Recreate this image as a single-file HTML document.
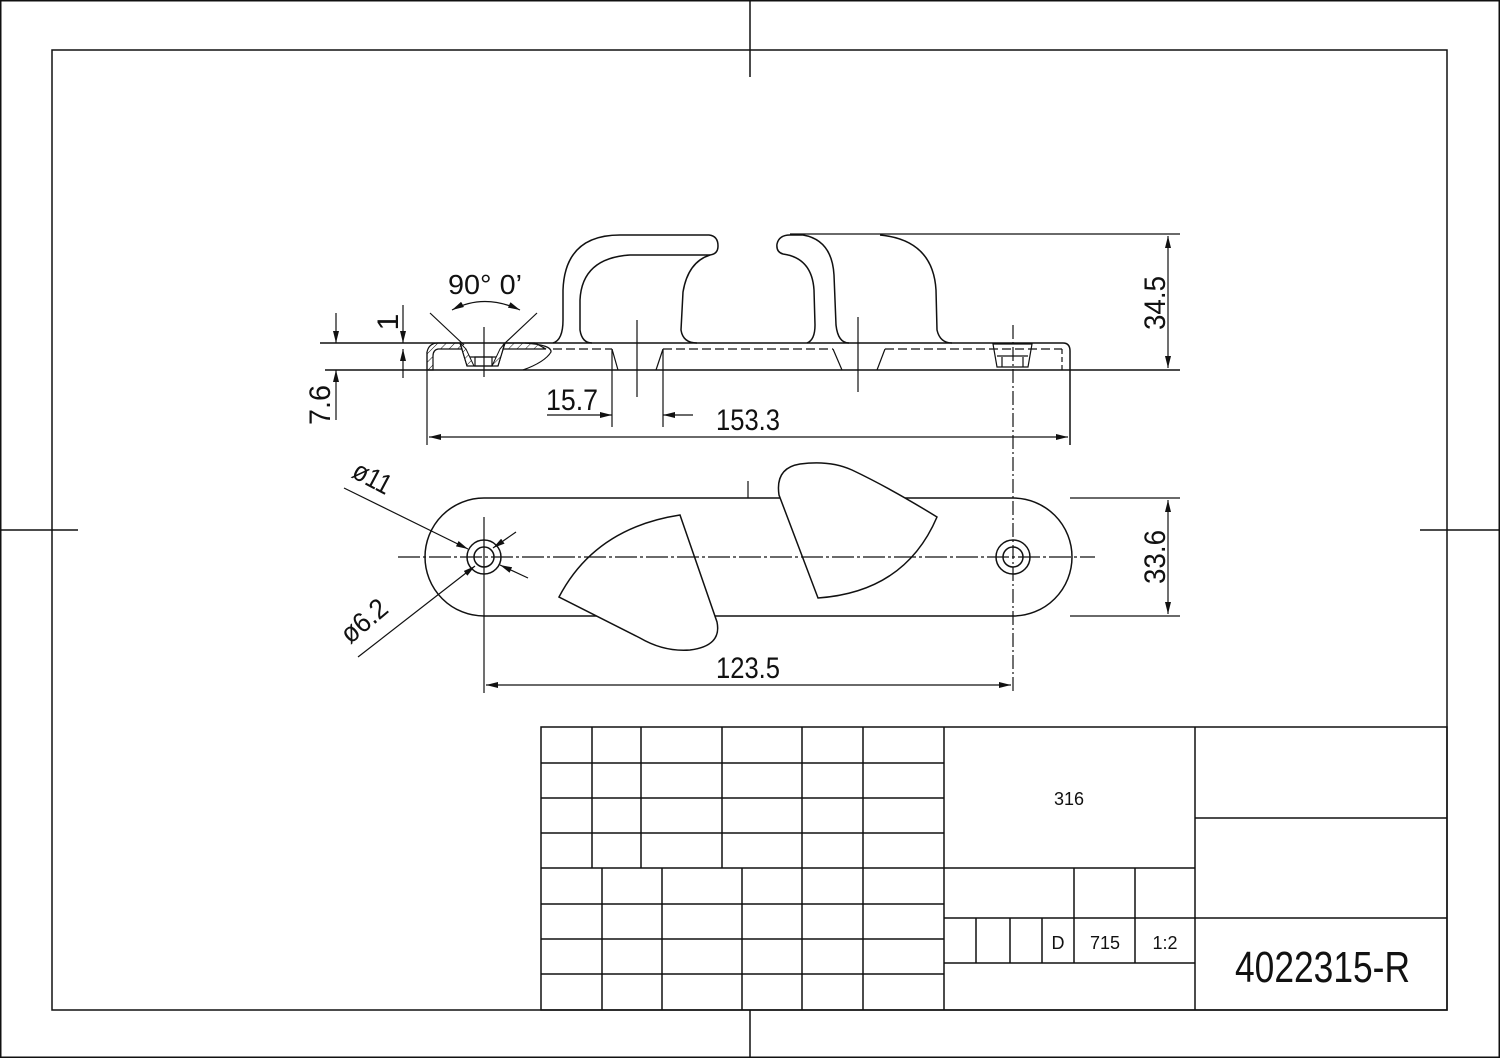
<!DOCTYPE html>
<html><head><meta charset="utf-8"><style>
html,body{margin:0;padding:0;background:#fff}
svg{display:block}
text{font-family:"Liberation Sans Narrow","Liberation Sans",sans-serif;fill:#111}
</style></head><body>
<svg width="1500" height="1058" viewBox="0 0 1500 1058" xmlns="http://www.w3.org/2000/svg">
<defs>
<marker id="a" viewBox="0 0 12 6" refX="12" refY="3" markerWidth="12" markerHeight="6" orient="auto-start-reverse" markerUnits="userSpaceOnUse"><path d="M0,0 L12,3 L0,6 Z" fill="#111"/></marker>
<pattern id="h" width="6" height="6" patternUnits="userSpaceOnUse" patternTransform="rotate(45)"><line x1="0" y1="0" x2="0" y2="6" stroke="#111" stroke-width="1"/></pattern>
</defs>
<g fill="none" stroke="#111" stroke-width="1.5">
<rect x="0.75" y="0.75" width="1498.5" height="1056.5"/>
<rect x="52" y="50" width="1395" height="960"/>
<line x1="750" y1="0" x2="750" y2="77"/>
<line x1="750" y1="1010" x2="750" y2="1058"/>
<line x1="0" y1="530" x2="78" y2="530"/>
<line x1="1420" y1="530" x2="1500" y2="530"/>
<rect x="541" y="727" width="906" height="283"/>
<line x1="944" y1="727" x2="944" y2="1010"/>
<line x1="1195" y1="727" x2="1195" y2="1010"/>
<line x1="541" y1="763" x2="944" y2="763"/>
<line x1="541" y1="798" x2="944" y2="798"/>
<line x1="541" y1="833" x2="944" y2="833"/>
<line x1="541" y1="868" x2="1195" y2="868"/>
<line x1="541" y1="904" x2="944" y2="904"/>
<line x1="541" y1="939" x2="944" y2="939"/>
<line x1="541" y1="974" x2="944" y2="974"/>
<line x1="592" y1="727" x2="592" y2="868"/>
<line x1="641" y1="727" x2="641" y2="868"/>
<line x1="722" y1="727" x2="722" y2="868"/>
<line x1="802" y1="727" x2="802" y2="1010"/>
<line x1="863" y1="727" x2="863" y2="1010"/>
<line x1="602" y1="868" x2="602" y2="1010"/>
<line x1="662" y1="868" x2="662" y2="1010"/>
<line x1="742" y1="868" x2="742" y2="1010"/>
<line x1="944" y1="918" x2="1447" y2="918"/>
<line x1="944" y1="963" x2="1195" y2="963"/>
<line x1="976" y1="918" x2="976" y2="963"/>
<line x1="1010" y1="918" x2="1010" y2="963"/>
<line x1="1042" y1="918" x2="1042" y2="963"/>
<line x1="1074" y1="868" x2="1074" y2="963"/>
<line x1="1135" y1="868" x2="1135" y2="963"/>
<line x1="1195" y1="818" x2="1447" y2="818"/>
</g>
<text x="1069" y="805" font-size="18" text-anchor="middle">316</text>
<text x="1058" y="949" font-size="18" text-anchor="middle">D</text>
<text x="1105" y="949" font-size="18" text-anchor="middle">715</text>
<text x="1165" y="949" font-size="18" text-anchor="middle">1:2</text>
<text x="1235" y="982" font-size="44" textLength="175" lengthAdjust="spacingAndGlyphs">4022315-R</text>

<g fill="none" stroke="#111" stroke-width="1.5">
<path d="M553,343 Q563,340 563,320 L563,290 Q565,235 620,235 L709,235 Q718,236 718,246 Q718,254 710,255 L630,255 Q582,258 580,300 L580,330 Q582,343 592,343"/>
<path d="M710,255 Q688,262 683,292 L681,330 Q683,343 697,343"/>
<path d="M807,343 Q815,340 815,325 L814,290 Q812,258 783,254 Q776,252 777,244 Q779,235 790,235 L803,235 Q832,240 834,275 L836,325 Q838,343 849,343"/>
<path d="M880,235 Q933,240 936,290 L937,330 Q940,343 952,343"/>
<line x1="790" y1="234" x2="1180" y2="234" stroke-width="1.2"/>
<line x1="320" y1="343" x2="1063" y2="343"/>
<path d="M1063,343 Q1070,343 1070,351 L1070,445"/>
<line x1="325" y1="370" x2="1180" y2="370"/>
<line x1="427" y1="352" x2="427" y2="445" stroke-width="1.2"/>
</g>
<!-- hatched thin section -->
<path d="M427,370 L427,352 Q429,343 438,343 L460,343 L462,349 L438,349 Q433,350 433,356 L433,370 Z" fill="url(#h)" stroke="#111" stroke-width="1.2"/>
<path d="M505,343 L535,343 L546,349 L503,349 Z" fill="url(#h)" stroke="#111" stroke-width="1.2"/>
<path d="M460,343 L467,366 L474,366 L466,349 Z" fill="url(#h)" stroke="#111" stroke-width="1"/>
<path d="M505,343 L498,366 L492,366 L500,349 Z" fill="url(#h)" stroke="#111" stroke-width="1"/>
<g fill="none" stroke="#111" stroke-width="1.2">
<path d="M525,343 Q552,345 551,352 Q545,362 523,370"/>
<path d="M460,343 L467,366 L498,366 L505,343"/>
<rect x="475" y="357" width="17" height="9"/>
<line x1="470" y1="357" x2="496" y2="357"/>
<line x1="430" y1="313" x2="464" y2="345"/>
<line x1="537" y1="313" x2="503" y2="345"/>
<path d="M452,310 Q484,293 520,310" marker-start="url(#a)" marker-end="url(#a)"/>
<line x1="484" y1="327" x2="484" y2="377"/>
<path d="M553,349 H612 M663,349 H833 M885,349 H1062" stroke-dasharray="9,4"/>
<path d="M1062,349 V370" stroke-dasharray="5,3"/>
<line x1="612" y1="349" x2="618" y2="370"/>
<line x1="663" y1="349" x2="656" y2="370"/>
<line x1="833" y1="349" x2="842" y2="370"/>
<line x1="885" y1="349" x2="877" y2="370"/>
<line x1="612" y1="349" x2="612" y2="427"/>
<line x1="663" y1="349" x2="663" y2="427"/>
<line x1="637" y1="320" x2="637" y2="397"/>
<line x1="858" y1="317" x2="858" y2="392"/>
<path d="M993,344 L997,367 L1028,367 L1032,344 Z M1002,357 V367 M1023,357 V367 M997,356 H1028"/>
<line x1="1013" y1="325" x2="1013" y2="693" stroke-dasharray="14,3,2,3"/>
<line x1="1168" y1="236" x2="1168" y2="368" marker-start="url(#a)" marker-end="url(#a)"/>
<line x1="429" y1="437" x2="1068" y2="437" marker-start="url(#a)" marker-end="url(#a)"/>
<line x1="547" y1="415" x2="612" y2="415" marker-end="url(#a)"/>
<line x1="693" y1="415" x2="663" y2="415" marker-end="url(#a)"/>
<line x1="403" y1="305" x2="403" y2="343" marker-end="url(#a)"/>
<line x1="403" y1="378" x2="403" y2="349" marker-end="url(#a)"/>
<line x1="336" y1="313" x2="336" y2="343" marker-end="url(#a)"/>
<line x1="336" y1="420" x2="336" y2="370" marker-end="url(#a)"/>
</g>
<text x="748" y="430" font-size="30" text-anchor="middle" textLength="64" lengthAdjust="spacingAndGlyphs">153.3</text>
<text x="572" y="410" font-size="30" text-anchor="middle" textLength="52" lengthAdjust="spacingAndGlyphs">15.7</text>
<text x="485" y="294" font-size="28" text-anchor="middle" textLength="74" lengthAdjust="spacingAndGlyphs">90° 0’</text>
<text transform="translate(1165,303) rotate(-90)" font-size="30" text-anchor="middle" textLength="54" lengthAdjust="spacingAndGlyphs">34.5</text>
<text transform="translate(1165,557) rotate(-90)" font-size="30" text-anchor="middle" textLength="54" lengthAdjust="spacingAndGlyphs">33.6</text>
<text transform="translate(398,322) rotate(-90)" font-size="30" text-anchor="middle">1</text>
<text transform="translate(330,405) rotate(-90)" font-size="30" text-anchor="middle" textLength="40" lengthAdjust="spacingAndGlyphs">7.6</text>

<g fill="none" stroke="#111" stroke-width="1.5">
<path d="M484,498 H1013 A59,59 0 0 1 1013,616 H484 A59,59 0 0 1 484,498 Z"/>
<circle cx="484" cy="557" r="17"/><circle cx="484" cy="557" r="10"/>
<circle cx="1013" cy="557" r="17"/><circle cx="1013" cy="557" r="10"/>
<path d="M680,515 L717,622 Q722,646 690,650 Q664,652 640,638 L559,597 Q595,528 680,515 Z" fill="#fff"/>
<path d="M779,495 Q775,468 800,464 Q830,460 852,470 Q890,488 937,517 Q905,592 818,598 Z" fill="#fff"/>
</g>
<g fill="none" stroke="#111" stroke-width="1.2">
<line x1="398" y1="557" x2="1095" y2="557" stroke-dasharray="22,3,3,3"/>
<line x1="484" y1="517" x2="484" y2="693"/>
<line x1="748" y1="481" x2="748" y2="498"/>
<line x1="486" y1="685" x2="1011" y2="685" marker-start="url(#a)" marker-end="url(#a)"/>
<line x1="1070" y1="498" x2="1180" y2="498"/>
<line x1="1070" y1="616" x2="1180" y2="616"/>
<line x1="1168" y1="500" x2="1168" y2="614" marker-start="url(#a)" marker-end="url(#a)"/>
<line x1="344" y1="488" x2="468" y2="549" marker-end="url(#a)"/>
<line x1="528" y1="578" x2="500" y2="565" marker-end="url(#a)"/>
<line x1="358" y1="657" x2="475" y2="566" marker-end="url(#a)"/>
<line x1="516" y1="532" x2="493" y2="548" marker-end="url(#a)"/>
</g>
<text x="748" y="678" font-size="30" text-anchor="middle" textLength="64" lengthAdjust="spacingAndGlyphs">123.5</text>
<text transform="translate(368,486) rotate(28)" font-size="28" text-anchor="middle" textLength="40" lengthAdjust="spacingAndGlyphs">ø11</text>
<text transform="translate(370,628) rotate(-40)" font-size="28" text-anchor="middle" textLength="52" lengthAdjust="spacingAndGlyphs">ø6.2</text>
</svg>
</body></html>
